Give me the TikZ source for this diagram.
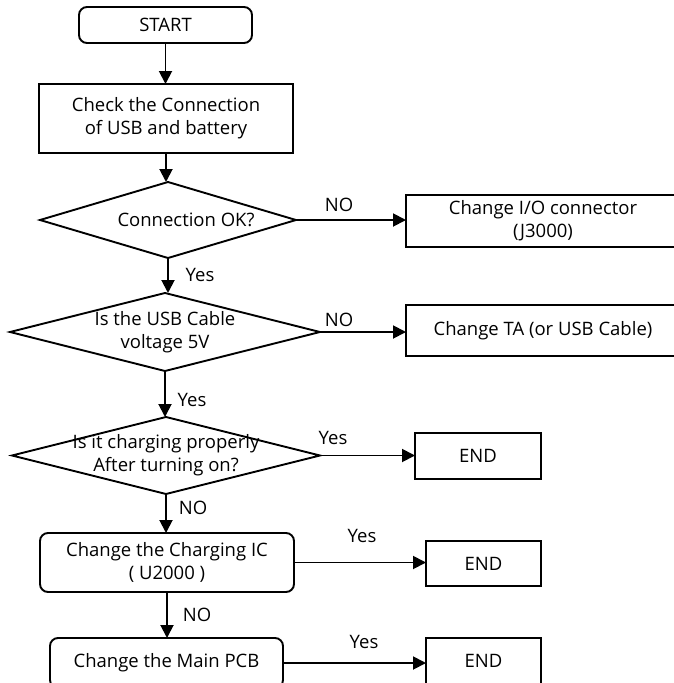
\documentclass[tikz,border=0pt]{standalone}
\usepackage{fontspec}
\setmainfont{Open Sans}
\usetikzlibrary{arrows.meta,calc}
\begin{document}
\begin{tikzpicture}[x=1pt,y=-1pt,
  font=\fontsize{18.5}{23}\selectfont,
  every node/.style={inner sep=0pt,outer sep=0pt,align=center},
  box/.style={draw,line width=1.9pt,rectangle},
  rbox/.style={draw,line width=1.9pt,rectangle,rounded corners=8pt},
  dia/.style={rectangle},
  conn/.style={line width=1.9pt,-{Triangle[length=13pt,width=13pt]}},
  lbl/.style={}]
\useasboundingbox (0,0) rectangle (674,683);
\clip (0,0) rectangle (674,683);
\node[rbox,minimum width=173pt,minimum height=36pt] (start) at (165.5,25) {START};
\node[box,minimum width=254pt,minimum height=69pt] (check) at (166,118.5) {Check the Connection\\of USB and battery};
\node[dia,minimum width=256pt,minimum height=76pt] (d1) at (168,220) {};
\node (d1t) at (186,220) {Connection OK?};
\node[dia,minimum width=310pt,minimum height=78pt] (d2) at (165,332) {Is the USB Cable\\voltage 5V};
\node[dia,minimum width=308pt,minimum height=77pt] (d3) at (166,455.5) {Is it charging properly\\After turning on?};
\node[rbox,minimum width=254pt,minimum height=59pt] (b4) at (167,562.5) {Change the Charging IC\\( U2000 )};
\node[rbox,minimum width=233pt,minimum height=50pt] (b5) at (166.5,663) {Change the Main PCB};
\node[box,minimum width=274pt,minimum height=52pt] (io) at (543,221) {Change I/O connector\\(J3000)};
\node[box,minimum width=274pt,minimum height=51pt] (ta) at (543,330.5) {Change TA (or USB Cable)};
\node[box,minimum width=126pt,minimum height=46pt] (e1) at (478,456) {END};
\node[box,minimum width=115pt,minimum height=45pt] (e2) at (483.5,563.5) {END};
\node[box,minimum width=115pt,minimum height=46pt] (e3) at (483.5,661) {END};
\foreach \d in {d1,d2,d3}{
  \draw[line width=1.9pt,line join=miter] (\d.west) -- (\d.north) -- (\d.east) -- (\d.south) -- cycle;
}
\draw[conn] (start.south) -- (start.south |- check.north);
\draw[conn] (check.south) -- (check.south |- d1.north);
\draw[conn] (d1.south) -- (d1.south |- d2.north);
\draw[conn] (d2.south) -- (d2.south |- d3.north);
\draw[conn] (d3.south) -- (d3.south |- b4.north);
\draw[conn] (b4.south) -- (b4.south |- b5.north);
\draw[conn] (d1.east) -- (d1.east -| io.west);
\draw[conn] (d2.east) -- (d2.east -| ta.west);
\draw[conn] (d3.east) -- (d3.east -| e1.west);
\draw[conn] (b4.east) -- (b4.east -| e2.west);
\draw[conn] (b5.east) -- (b5.east -| e3.west);
\node[lbl] (l1) at (200,275) {Yes};
\node[lbl] (l2) at (192,400) {Yes};
\node[lbl] (l3) at (193,508) {NO};
\node[lbl] (l4) at (197,615) {NO};
\node[lbl] (l5) at (339,205) {NO};
\node[lbl] (l6) at (339,320) {NO};
\node[lbl] (l7) at (333,438) {Yes};
\node[lbl] (l8) at (362,536) {Yes};
\node[lbl] (l9) at (364,642) {Yes};
\end{tikzpicture}
\end{document}
